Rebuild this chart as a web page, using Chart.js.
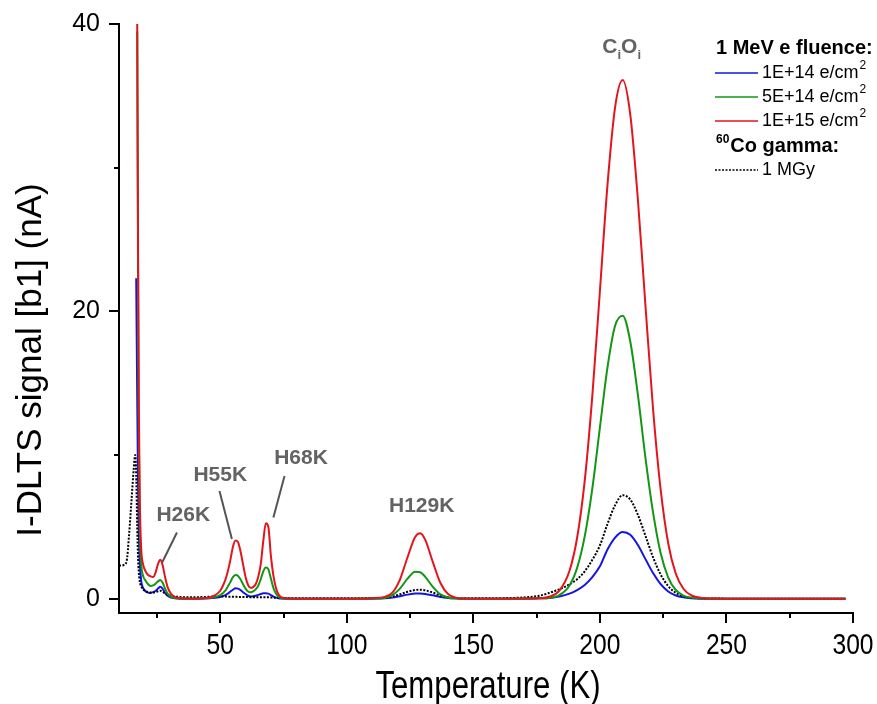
<!DOCTYPE html>
<html>
<head>
<meta charset="utf-8">
<script src="https://cdn.jsdelivr.net/npm/chart.js@4.4.1/dist/chart.umd.min.js"></script>
<style>
  html, body { margin: 0; padding: 0; background: #fff; }
  #wrap { width: 877px; height: 704px; }
</style>
</head>
<body>
<div id="wrap"><canvas id="dltsChart" width="877" height="704"></canvas></div>
<script>
// temperature grid (K), shared by all four curves
var temperature = [
  10, 11, 12, 13, 14, 15, 15.8, 16.4, 16.8, 17.2,
  17.5, 17.8, 18.2, 18.8, 19.5, 20.5, 21.5, 22.5, 23.5, 24.5,
  25.5, 26.3, 27.2, 28.2, 29.2, 30.5, 32, 34, 36, 40,
  44, 47, 50, 52, 53, 54, 55, 56, 57, 58,
  59, 60, 61, 62, 63, 64, 65, 66, 67, 68,
  69, 70, 71, 72, 73, 74, 76, 80, 90, 100,
  110, 115, 118, 121, 124, 127, 129, 131, 134, 137,
  140, 143, 146, 150, 160, 170, 176, 180, 184, 188,
  191, 194, 197, 200, 203, 206, 209, 212, 215, 218,
  221, 224, 227, 230, 233, 236, 240, 245, 250, 260,
  270, 280, 290, 297
];

// I-DLTS signal (nA)
var signal_1e14 = [
  null, null, null, null, null, null, null, null, 22.3, 14,
  8.5, 5, 2.6, 1.2, 0.75, 0.52, 0.42, 0.4, 0.45, 0.55,
  0.72, 0.83, 0.7, 0.4, 0.2, 0.08, 0.03, 0, 0, 0,
  0.01, 0.04, 0.12, 0.25, 0.35, 0.5, 0.62, 0.72, 0.7, 0.6,
  0.45, 0.32, 0.2, 0.15, 0.16, 0.2, 0.26, 0.32, 0.37, 0.38,
  0.35, 0.25, 0.14, 0.07, 0.03, 0.01, 0, 0, 0, 0,
  0, 0.02, 0.07, 0.17, 0.28, 0.35, 0.36, 0.33, 0.23, 0.12,
  0.05, 0.02, 0, 0, 0, 0, 0.02, 0.05, 0.15, 0.35,
  0.6, 0.95, 1.5, 2.25, 3.42, 4.25, 4.64, 4.44, 3.73, 2.75,
  1.78, 1.01, 0.5, 0.22, 0.09, 0.03, 0, 0, 0, 0,
  0, 0, 0, 0
];
var signal_5e14 = [
  null, null, null, null, null, null, null, null, null, 39.5,
  24, 12, 5.2, 2.4, 1.6, 1.25, 1.0, 0.88, 0.92, 1.05,
  1.22, 1.3, 1.12, 0.7, 0.35, 0.14, 0.05, 0.01, 0, 0,
  0.02, 0.08, 0.25, 0.55, 0.85, 1.15, 1.5, 1.65, 1.6, 1.35,
  1.0, 0.7, 0.5, 0.44, 0.5, 0.65, 0.9, 1.35, 1.9, 2.17,
  2.05, 1.4, 0.75, 0.35, 0.13, 0.04, 0, 0, 0, 0,
  0.01, 0.05, 0.24, 0.7, 1.39, 1.88, 1.84, 1.52, 0.82, 0.3,
  0.08, 0.01, 0, 0, 0, 0, 0.02, 0.05, 0.25, 0.92,
  2.14, 4.33, 7.66, 11.9, 16.1, 19.0, 19.7, 17.9, 14.2, 9.8,
  6.0, 3.17, 1.47, 0.6, 0.21, 0.07, 0.01, 0, 0, 0,
  0, 0, 0, 0
];
var signal_1e15 = [
  null, null, null, null, null, null, null, null, null, 40,
  26, 14, 7, 3.4, 2.4, 1.9, 1.65, 1.55, 1.5, 1.85,
  2.45, 2.7, 2.35, 1.5, 0.8, 0.35, 0.12, 0.04, 0.01, 0,
  0.04, 0.15, 0.55, 1.3, 1.9, 2.7, 3.6, 4.05, 3.95, 3.3,
  2.4, 1.5, 0.95, 0.75, 0.8, 1.0, 1.5, 2.4, 4.0, 5.25,
  5.0, 3.0, 1.6, 0.75, 0.3, 0.1, 0.02, 0, 0, 0,
  0.03, 0.12, 0.42, 1.33, 2.88, 4.29, 4.55, 4.09, 2.54, 1.09,
  0.32, 0.07, 0.01, 0, 0, 0.01, 0.03, 0.13, 0.56, 1.94,
  4.24, 8.2, 14.1, 21.4, 28.8, 34.2, 36.1, 33.7, 27.8, 20.4,
  13.2, 7.6, 3.84, 1.73, 0.69, 0.24, 0.05, 0.01, 0, 0,
  0, 0, 0, 0
];
var signal_gamma = [
  2.3, 2.3, 2.35, 2.6, 4.5, 7.0, 9.0, 10.0, 8.6, 5.0,
  3.0, 1.9, 1.2, 0.85, 0.65, 0.52, 0.45, 0.42, 0.42, 0.46,
  0.52, 0.55, 0.48, 0.36, 0.27, 0.2, 0.15, 0.12, 0.1, 0.1,
  0.12, 0.14, 0.14, 0.14, 0.14, 0.13, 0.13, 0.13, 0.12, 0.12,
  0.12, 0.11, 0.11, 0.1, 0.1, 0.1, 0.1, 0.1, 0.1, 0.09,
  0.09, 0.08, 0.07, 0.06, 0.05, 0.05, 0.04, 0.03, 0.03, 0.03,
  0.04, 0.05, 0.15, 0.3, 0.48, 0.6, 0.62, 0.58, 0.42, 0.22,
  0.1, 0.04, 0.02, 0.02, 0.03, 0.08, 0.2, 0.4, 0.65, 1.0,
  1.35, 1.9, 2.7, 3.7, 5.2, 6.5, 7.2, 6.9, 5.84, 4.37,
  2.88, 1.68, 0.87, 0.4, 0.16, 0.06, 0.02, 0.01, 0, 0,
  0, 0, 0, 0
];

var seriesLabels = ["1E+14 e/cm", "5E+14 e/cm", "1E+15 e/cm", "1 MGy"];
var xTickValues = [25, 50, 75, 100, 125, 150, 175, 200, 225, 250, 275, 300];
var yTickValues = [0, 10, 20, 30, 40];

var SANS = '"Liberation Sans", Arial, sans-serif';

function toPoints(values) {
  return temperature.map(function (t, i) {
    return { x: t, y: values[i] };
  });
}

function lineSet(label, values, color, order, dash) {
  return {
    label: label,
    data: toPoints(values),
    borderColor: color,
    borderWidth: 2,
    borderDash: dash || [],
    pointRadius: 0,
    fill: false,
    cubicInterpolationMode: "monotone",
    spanGaps: false,
    order: order,
  };
}

// condensed text (no narrow font installed, so squeeze a regular one)
function narrowText(c, text, x, y, size) {
  c.save();
  c.translate(x, y);
  c.scale(0.82, 1);
  c.font = size + "px " + SANS;
  c.fillText(text, 0, 0);
  c.restore();
}

// tick marks, x labels, axis titles, peak labels and the legend
var overlayPlugin = {
  id: "overlay",
  afterDraw: function (chart) {
    var c = chart.ctx;
    var xs = chart.scales.x;
    var ys = chart.scales.y;
    var area = chart.chartArea;
    c.save();

    c.strokeStyle = "#000";
    c.lineWidth = 2;
    xTickValues.forEach(function (v) {
      var px = Math.round(xs.getPixelForValue(v));
      var len = v % 50 === 0 ? 10 : 5;
      c.beginPath();
      c.moveTo(px, area.bottom);
      c.lineTo(px, area.bottom + len);
      c.stroke();
    });
    yTickValues.forEach(function (v) {
      var py = Math.round(ys.getPixelForValue(v));
      var len = v % 20 === 0 ? 10 : 5;
      c.beginPath();
      c.moveTo(area.left, py);
      c.lineTo(area.left - len, py);
      c.stroke();
    });

    c.fillStyle = "#000";
    c.textAlign = "center";
    c.textBaseline = "middle";
    xTickValues.forEach(function (v) {
      if (v % 50 === 0) {
        narrowText(c, String(v), xs.getPixelForValue(v), 646, 30);
      }
    });

    // axis titles
    narrowText(c, "Temperature (K)", 488, 688, 38);
    c.save();
    c.translate(31, 360);
    c.rotate(-Math.PI / 2);
    c.font = "35px " + SANS;
    c.fillText("I-DLTS signal [b1] (nA)", 0, 0);
    c.restore();

    // peak labels
    c.fillStyle = "#636363";
    c.strokeStyle = "#555";
    c.lineWidth = 2;
    c.font = "bold 21px " + SANS;
    peakLabels.forEach(function (p) {
      c.fillText(p.text, xs.getPixelForValue(p.t), ys.getPixelForValue(p.v));
    });
    pointerLines.forEach(function (l) {
      c.beginPath();
      c.moveTo(xs.getPixelForValue(l[0]), ys.getPixelForValue(l[1]));
      c.lineTo(xs.getPixelForValue(l[2]), ys.getPixelForValue(l[3]));
      c.stroke();
    });

    // CiOi with subscripts
    var cx = xs.getPixelForValue(208.6);
    var cy = ys.getPixelForValue(38.4);
    var parts = [["C", false], ["i", true], ["O", false], ["i", true]];
    var widths = parts.map(function (p) {
      c.font = (p[1] ? "bold 13px " : "bold 21px ") + SANS;
      return c.measureText(p[0]).width;
    });
    var total = widths.reduce(function (a, b) { return a + b; }, 0);
    var px = cx - total / 2;
    c.textAlign = "left";
    parts.forEach(function (p, i) {
      c.font = (p[1] ? "bold 13px " : "bold 21px ") + SANS;
      c.fillText(p[0], px, p[1] ? cy + 8 : cy);
      px += widths[i];
    });

    // legend
    var lx = 716, lineEnd = 758, tx = 762;
    var rowY = [48, 73, 97, 121, 146, 170];
    c.fillStyle = "#000";
    c.textAlign = "left";
    c.font = "bold 20px " + SANS;
    c.fillText("1 MeV e fluence:", lx, rowY[0]);
    var ds = chart.data.datasets;
    for (var i = 0; i < 3; i++) {
      c.strokeStyle = ds[i].borderColor;
      c.lineWidth = 1.5;
      c.setLineDash([]);
      c.beginPath();
      c.moveTo(lx - 1, rowY[i + 1]);
      c.lineTo(lineEnd, rowY[i + 1]);
      c.stroke();
      c.font = "18px " + SANS;
      c.fillText(ds[i].label, tx, rowY[i + 1]);
      var w = c.measureText(ds[i].label).width;
      c.font = "12px " + SANS;
      c.fillText("2", tx + w + 1, rowY[i + 1] - 7);
    }
    c.font = "bold 12px " + SANS;
    c.fillText("60", lx, rowY[4] - 6);
    var w60 = c.measureText("60").width;
    c.font = "bold 20px " + SANS;
    c.fillText("Co gamma:", lx + w60 + 1, rowY[4]);
    c.strokeStyle = "#000";
    c.lineWidth = 1.5;
    c.setLineDash([2, 1.5]);
    c.beginPath();
    c.moveTo(lx - 1, rowY[5]);
    c.lineTo(lineEnd, rowY[5]);
    c.stroke();
    c.setLineDash([]);
    c.font = "18px " + SANS;
    c.fillText(ds[3].label, tx, rowY[5]);

    c.restore();
  },
};

var peakLabels = [
  { text: "H26K", t: 35.4, v: 5.8 },
  { text: "H55K", t: 50, v: 8.6 },
  { text: "H68K", t: 81.9, v: 9.8 },
  { text: "H129K", t: 129.6, v: 6.4 },
];
var pointerLines = [
  [32.9, 4.6, 27.0, 2.5],
  [49.7, 7.5, 54.6, 4.15],
  [75.4, 8.54, 71.0, 5.65],
];

var chartCanvas = document.getElementById("dltsChart").getContext("2d");

new Chart(chartCanvas, {
  type: "line",
  data: {
    datasets: [
      lineSet(seriesLabels[0], signal_1e14, "#1414e6", 4),
      lineSet(seriesLabels[1], signal_5e14, "#139613", 2),
      lineSet(seriesLabels[2], signal_1e15, "#e3141c", 1),
      lineSet(seriesLabels[3], signal_gamma, "#000000", 3, [2, 1.5]),
    ],
  },
  options: {
    responsive: false,
    animation: false,
    devicePixelRatio: 1,
    layout: { padding: { left: 0, top: 22, right: 24, bottom: 0 } },
    plugins: {
      legend: { display: false },
      tooltip: { enabled: false },
    },
    scales: {
      x: {
        type: "linear",
        min: 10,
        max: 300,
        afterBuildTicks: function (scale) {
          scale.ticks = xTickValues.map(function (v) { return { value: v }; });
        },
        afterFit: function (scale) {
          scale.height = 91;
        },
        ticks: { display: false },
        grid: { display: true, drawOnChartArea: false, tickLength: 10, color: "transparent" },
        border: { display: true, color: "#000", width: 2 },
      },
      y: {
        type: "linear",
        min: -1,
        max: 40,
        afterBuildTicks: function (scale) {
          scale.ticks = yTickValues.map(function (v) { return { value: v }; });
        },
        afterFit: function (scale) {
          scale.width = 119;
        },
        ticks: {
          autoSkip: false,
          padding: 9,
          color: "#000",
          font: { family: SANS, size: 25 },
          callback: function (v) {
            return v % 20 === 0 ? String(v) : "";
          },
        },
        grid: { display: true, drawOnChartArea: false, tickLength: 10, color: "transparent" },
        border: { display: true, color: "#000", width: 2 },
      },
    },
  },
  plugins: [overlayPlugin],
});
</script>
</body>
</html>
